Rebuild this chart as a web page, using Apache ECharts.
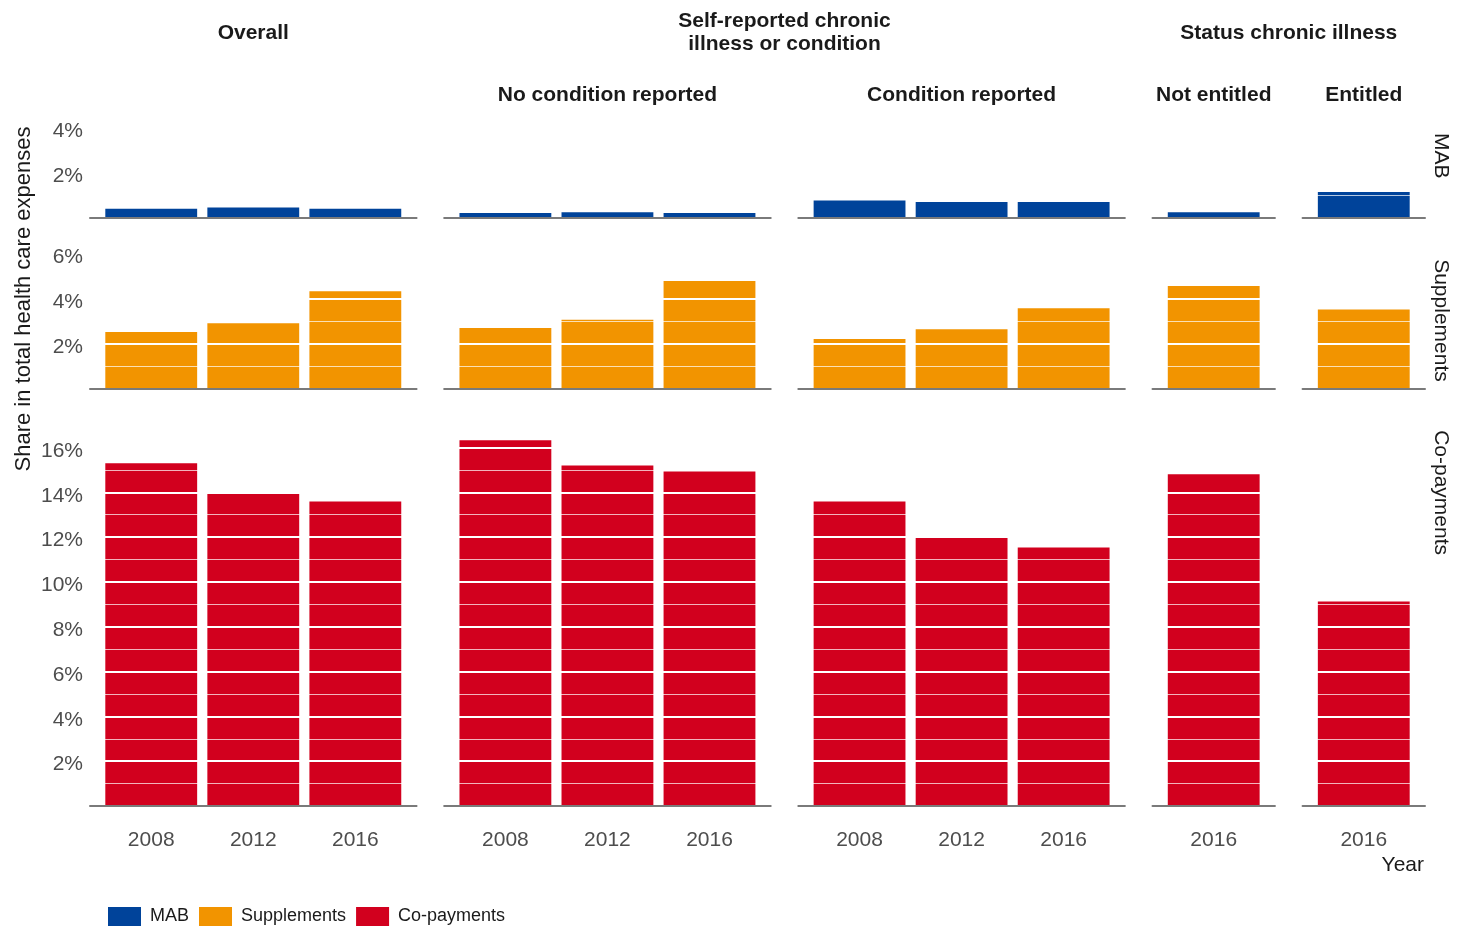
<!DOCTYPE html>
<html><head><meta charset="utf-8">
<script src="https://cdn.jsdelivr.net/npm/echarts@6/dist/echarts.min.js"></script>
<style>html,body{margin:0;padding:0;background:#fff}#chart{width:1459px;height:930px}</style>
</head><body><div id="chart"></div>
<script>
// ---- data ----
const groupTitles = ['Overall', 'Self-reported chronic\nillness or condition', 'Status chronic illness'];
const groupColumns = [[0], [1, 2], [3, 4]];
const panelTitles = ['', 'No condition reported', 'Condition reported', 'Not entitled', 'Entitled'];
const panelYears = [['2008', '2012', '2016'], ['2008', '2012', '2016'], ['2008', '2012', '2016'], ['2016'], ['2016']];
const rowNames = ['MAB', 'Supplements', 'Co-payments'];
const mabShares = [[0.39, 0.45, 0.39], [0.20, 0.24, 0.20], [0.76, 0.70, 0.70], [0.24], [1.14]];
const supplementShares = [[2.52, 2.91, 4.34], [2.70, 3.07, 4.80], [2.21, 2.65, 3.59], [4.58], [3.53]];
const copaymentShares = [[15.30, 13.93, 13.59], [16.33, 15.20, 14.93], [13.59, 11.96, 11.54], [14.81], [9.13]];
const yAxisTitle = 'Share in total health care expenses';
const xAxisTitle = 'Year';

// ---- layout / style ----
const rowValues = [mabShares, supplementShares, copaymentShares];
const rowMax = [4.4, 6.4, 17.4];
const colors = ['#00439a', '#f29400', '#d2001e'];
const FONT = "'Liberation Sans', Arial, sans-serif";
const L = 90, R = 1425, T = 119, B = 806, GAP = 27.6;
const colUnits = panelYears.map(y => y.length + 0.2);
const sum = a => a.reduce((s, v) => s + v, 0);
const unitPx = (R - L - GAP * (colUnits.length - 1)) / sum(colUnits);
const pxPerPct = (B - T - GAP * (rowMax.length - 1)) / sum(rowMax);
const colLeft = colUnits.map((u, c) => L + sum(colUnits.slice(0, c)) * unitPx + c * GAP);
const colWidth = colUnits.map(u => u * unitPx);
const rowTop = rowMax.map((m, r) => T + sum(rowMax.slice(0, r)) * pxPerPct + r * GAP);
const rowHeight = rowMax.map(m => m * pxPerPct);

const grids = [], xAxes = [], yAxes = [], series = [];
rowNames.forEach((name, r) => {
  panelYears.forEach((years, c) => {
    const idx = grids.length;
    grids.push({ left: colLeft[c], top: rowTop[r], width: colWidth[c], height: rowHeight[r], containLabel: false });
    xAxes.push({
      type: 'value', gridIndex: idx, min: 0.4, max: years.length + 0.6, z: 12,
      axisLine: { show: true, onZero: false, lineStyle: { color: '#7a7a7a', width: 2 } },
      axisTick: { show: false }, splitLine: { show: false },
      axisLabel: {
        show: r === rowNames.length - 1, customValues: years.map((_, i) => i + 1),
        formatter: v => years[Math.round(v) - 1] || '',
        fontSize: 21, color: '#4d4d4d', margin: 24, fontFamily: FONT
      }
    });
    yAxes.push({
      type: 'value', gridIndex: idx, min: 0, max: rowMax[r], interval: 2, z: 10,
      axisLine: { show: false }, axisTick: { show: false },
      axisLabel: {
        show: c === 0, formatter: v => (v > 0 && Math.abs(v % 2) < 1e-9) ? v + '%' : '',
        fontSize: 21, color: '#4d4d4d', margin: 7, fontFamily: FONT,
        verticalAlign: 'top', lineHeight: 7
      },
      splitLine: { show: true, lineStyle: { color: '#ffffff', width: 2.2 } },
      minorTick: { show: false, splitNumber: 2 },
      minorSplitLine: { show: true, lineStyle: { color: '#ffffff', width: 1, opacity: 0.7 } }
    });
    series.push({
      type: 'bar', name: name, xAxisIndex: idx, yAxisIndex: idx,
      data: rowValues[r][c].map((v, i) => [i + 1, v]),
      barWidth: unitPx * 0.9, itemStyle: { color: colors[r] }, z: 2,
      emphasis: { disabled: true }
    });
  });
});

const graphic = [];
const txt = (text, x, y, o) => Object.assign({
  type: 'text', x: x, y: y, silent: true,
  style: Object.assign({ text: text, fontFamily: FONT, fontSize: 21, fill: '#1a1a1a', align: 'center', verticalAlign: 'middle', textAlign: 'center', textVerticalAlign: 'middle' }, o.style || {})
}, o.el || {});
groupTitles.forEach((t, g) => {
  const cols = groupColumns[g];
  const x0 = colLeft[cols[0]], x1 = colLeft[cols[cols.length - 1]] + colWidth[cols[cols.length - 1]];
  graphic.push(txt(t, (x0 + x1) / 2, 33, { style: { fontWeight: 'bold', lineHeight: 23 } }));
});
panelTitles.forEach((t, c) => {
  if (t) graphic.push(txt(t, colLeft[c] + colWidth[c] / 2, 95, { style: { fontWeight: 'bold' } }));
});
rowNames.forEach((n, r) => {
  graphic.push(txt(n, 1441, rowTop[r] + 14, { style: { align: 'left', textAlign: 'left' }, el: { rotation: -Math.PI / 2 } }));
});
graphic.push(txt(yAxisTitle, 24, 299, { style: { fontSize: 22 }, el: { rotation: Math.PI / 2 } }));
graphic.push(txt(xAxisTitle, 1424, 865, { style: { align: 'right', textAlign: 'right' } }));

const chart = echarts.init(document.getElementById('chart'));
chart.setOption({
  animation: false,
  backgroundColor: '#ffffff',
  grid: grids, xAxis: xAxes, yAxis: yAxes, series: series,
  legend: {
    data: rowNames, left: 103, top: 902, icon: 'rect', itemWidth: 33, itemHeight: 19, itemGap: 10,
    textStyle: { fontSize: 18, color: '#1a1a1a', fontFamily: FONT, padding: [0, 0, 0, 4] }
  },
  graphic: graphic
});
</script></body></html>
